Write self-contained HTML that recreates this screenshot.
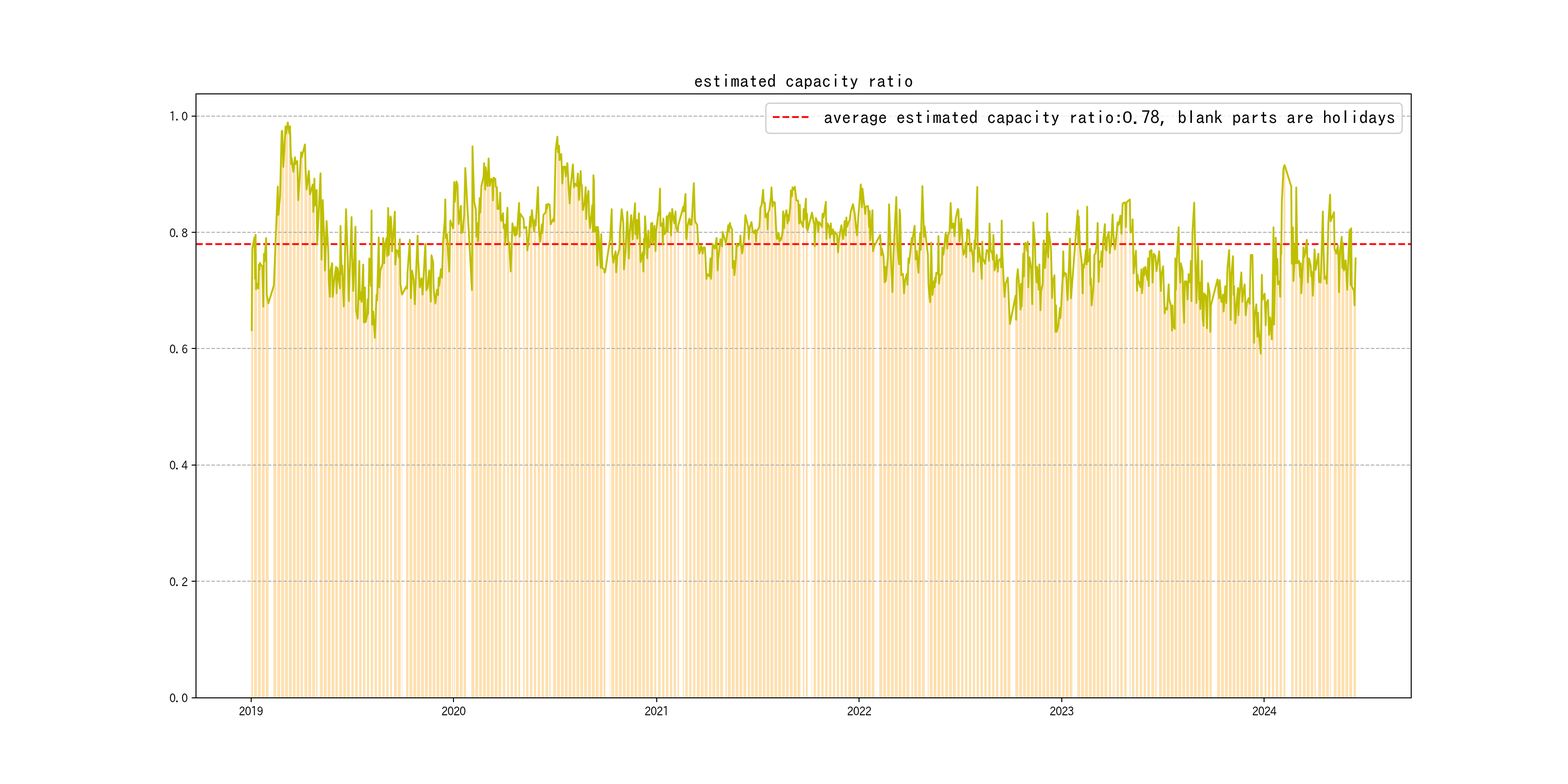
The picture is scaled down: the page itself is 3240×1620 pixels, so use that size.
<!DOCTYPE html>
<html><head><meta charset="utf-8"><title>estimated capacity ratio</title>
<style>html,body{margin:0;padding:0;background:#fff;width:3240px;height:1620px;overflow:hidden}svg{display:block}</style>
</head><body>
<svg width="3240" height="1620" viewBox="0 0 3240 1620">
<rect width="3240" height="1620" fill="#fff"/>
<path d="M519 1442V682H520V514H521V508H523V1442zM525 1442V490H526V576H527V485H528V598H529V586H531V1442zM533 1442V596H534V547H535V557H536V543H537V547H539V1442zM541 1442V550H542V592H543V634H544V524H546V540H547V1442zM549 1442V492H550V608H551V614H552V621H554V627H555V1442zM565 1442V589H566V560H567V530H568V500H570V471H571V1442zM573 1442V385H574V444H575V432H576V420H578V408H579V1442zM581 1442V272H582V270H583V308H584V345H586V324H587V1442zM589 1442V261H590V276H591V269H593V261H594V253H595V1442zM597 1442V276H598V261H599V300H601V339H602V327H603V1442zM605 1442V355H606V345H607V335H609V325H610V339H611V1442zM613 1442V333H614V373H615V414H617V394H618V374H619V1442zM621 1442V315H622V325H623V320H625V316H626V1442zM629 1442V299H630V345H631V368H633V391H634V382H635V1442zM637 1442V353H638V377H640V401H641V397H642V393H643V1442zM645 1442V381H646V438H648V404H649V369H650V425H651V1442zM653 1442V392H654V504H656V1442zM661 1442V358H662V447H664V536H665V475H666V413H667V1442zM669 1442V504H670V559H672V525H673V491H674V457H675V1442zM677 1442V519H678V581H680V597H681V613H682V559H683V1442zM685 1442V544H687V613H688V601H689V589H690V576H691V1442zM693 1442V551H695V606H696V580H697V554H698V1442zM701 1442V596H703V467H704V517H705V566H706V549H707V1442zM709 1442V633H711V583H712V533H713V482H714V432H715V1442zM717 1442V531H719V577H720V622H721V587H722V553H723V1442zM726 1442V449H727V529H728V565H729V601H730V568H731V1442zM734 1442V468H735V641H736V647H737V653H738V658H739V1442zM742 1442V539H743V619H744V611H745V604H746V624H747V1442zM750 1442V547H751V666H752V630H753V594H754V666H755V1442zM758 1442V653H759V619H760V649H761V591H762V534H763V1442zM766 1442V591H767V435H768V671H769V657H770V644H771V1442zM774 1442V698H775V668H776V639H777V609H778V621H779V1442zM782 1442V491H783V594H784V576H785V559H786V555H787V1442zM790 1442V544H791V492H792V518H793V544H794V509H795V1442zM798 1442V492H799V529H800V480H801V430H802V527H803V1442zM806 1442V447H807V450H808V484H809V519H810V1442zM814 1442V454H815V437H816V547H817V532H818V517H820V1442zM822 1442V519H823V532H824V513H825V494H826V586H828V1442zM830 1442V609H831V1442zM839 1442V591H840V596H841V561H842V545H844V1442zM846 1442V496H847V556H848V616H849V588H850V559H852V1442zM854 1442V579H855V604H856V629H857V600H859V572H860V1442zM862 1442V487H863V537H864V556H865V575H867V594H868V1442zM870 1442V575H871V592H872V609H873V588H875V567H876V1442zM878 1442V504H879V552H880V600H881V590H883V596H884V1442zM886 1442V559H887V580H888V602H889V623H891V528H892V1442zM894 1442V541H895V596H896V606H897V617H899V627H900V1442zM902 1442V598H903V604H904V610H906V574H907V591H908V1442zM910 1442V556H911V565H912V574H914V536H915V499H916V1442zM918 1442V454H919V412H920V492H922V488H923V484H924V1442zM926 1442V542H927V561H928V508H930V456H931V459H932V1442zM934 1442V469H935V472H936V1442zM938 1442V376H939V417H940V1442zM942 1442V375H943V379H944V382H946V423H947V463H948V1442zM950 1442V435H951V425H953V481H954V481H955V480H956V1442zM958 1442V444H959V396H961V347H962V368H963V1442zM974 1442V599H975V302H977V341H978V379H979V417H980V1442zM982 1442V433H983V489H985V475H986V461H987V499H988V1442zM990 1442V409H991V439H993V412H994V384H995V379H996V1442zM998 1442V365H1000V337H1001V365H1002V392H1003V346H1004V1442zM1006 1442V384H1008V362H1009V327H1010V356H1011V384H1012V1442zM1014 1442V370H1016V371H1017V372H1018V414H1019V367H1020V1442zM1022 1442V370H1024V386H1025V386H1026V387H1027V432H1028V1442zM1030 1442V432H1032V415H1033V398H1034V454H1035V457H1036V1442zM1039 1442V440H1040V471H1041V468H1042V464H1043V506H1044V1442zM1048 1442V429H1049V499H1050V500H1051V501H1052V1442zM1055 1442V561H1056V528H1057V495H1058V461H1059V468H1060V1442zM1063 1442V486H1064V469H1065V486H1066V474H1067V484H1068V1442zM1071 1442V435H1072V419H1073V489H1074V442H1075V1442zM1081 1442V452H1082V471H1083V471H1084V1442zM1087 1442V469H1088V493H1089V517H1090V508H1091V499H1092V1442zM1095 1442V448H1096V469H1097V452H1098V434H1099V445H1100V1442zM1103 1442V479H1104V459H1105V454H1106V466H1107V446H1108V1442zM1111 1442V387H1112V431H1113V476H1114V488H1115V500H1116V1442zM1119 1442V464H1120V481H1121V462H1122V444H1123V443H1124V1442zM1127 1442V439H1128V423H1129V431H1130V426H1131V421H1133V1442zM1135 1442V423H1136V443H1137V464H1138V1442zM1143 1442V451H1144V458H1145V408H1146V359H1147V310H1149V1442zM1151 1442V282H1152V315H1153V308H1154V301H1155V331H1157V1442zM1159 1442V318H1160V349H1161V379H1162V362H1163V344H1165V1442zM1167 1442V344H1168V364H1169V355H1170V346H1172V337H1173V1442zM1175 1442V400H1176V420H1177V402H1178V384H1180V373H1181V1442zM1183 1442V340H1184V363H1185V387H1186V383H1188V380H1189V1442zM1191 1442V384H1192V371H1193V358H1194V386H1196V413H1197V1442zM1199 1442V353H1200V382H1201V382H1202V408H1204V434H1205V1442zM1207 1442V419H1208V403H1209V387H1210V453H1212V417H1213V1442zM1215 1442V394H1216V442H1217V457H1219V471H1220V460H1221V1442zM1223 1442V424H1224V479H1225V362H1227V375H1228V479H1229V1442zM1231 1442V469H1232V509H1233V548H1235V469H1236V479H1237V1442zM1239 1442V535H1240V553H1241V484H1243V519H1244V553H1245V1442zM1247 1442V556H1248V563H1249V563H1251V1442zM1260 1442V494H1261V1442zM1263 1442V432H1264V524H1266V534H1267V543H1268V534H1269V1442zM1271 1442V519H1272V563H1274V546H1275V529H1276V525H1277V1442zM1279 1442V514H1280V475H1282V460H1283V446H1284V432H1285V1442zM1287 1442V462H1288V557H1290V543H1291V530H1292V517H1293V1442zM1295 1442V437H1296V470H1298V502H1299V534H1300V487H1301V1442zM1303 1442V445H1304V461H1306V478H1307V494H1308V462H1309V1442zM1311 1442V420H1313V484H1314V470H1315V455H1316V493H1317V1442zM1319 1442V441H1321V469H1322V497H1323V542H1324V537H1325V1442zM1327 1442V521H1329V561H1330V494H1331V526H1332V447H1333V1442zM1335 1442V504H1337V534H1338V505H1339V477H1340V511H1341V1442zM1343 1442V501H1345V462H1346V461H1347V460H1348V504H1349V1442zM1352 1442V467H1353V493H1354V519H1355V479H1356V1442zM1360 1442V439H1361V444H1362V417H1363V390H1364V467H1365V1442zM1368 1442V462H1369V505H1370V452H1371V468H1372V484H1373V1442zM1376 1442V479H1377V447H1378V463H1379V479H1380V447H1381V1442zM1384 1442V439H1385V463H1386V487H1387V459H1388V432H1389V1442zM1392 1442V457H1393V462H1394V449H1395V437H1396V469H1397V1442zM1400 1442V479H1401V466H1402V461H1403V1442zM1411 1442V427H1412V437H1413V1442zM1416 1442V401H1417V492H1418V494H1419V479H1420V464H1421V1442zM1424 1442V452H1425V464H1426V459H1427V454H1428V464H1429V1442zM1432 1442V400H1433V379H1434V416H1435V454H1436V459H1437V1442zM1440 1442V464H1441V484H1442V504H1443V514H1444V524H1446V1442zM1448 1442V507H1449V514H1450V519H1451V524H1452V511H1454V1442zM1456 1442V511H1457V533H1458V555H1459V576H1460V566H1462V1442zM1465 1442V571H1466V552H1467V534H1468V576H1470V1442zM1472 1442V504H1473V507H1474V509H1475V511H1476V514H1478V1442zM1480 1442V492H1481V525H1482V559H1483V536H1485V526H1486V1442zM1488 1442V494H1489V499H1490V504H1491V509H1493V479H1494V1442zM1499 1442V504H1501V494H1502V1442zM1504 1442V465H1505V479H1506V470H1507V460H1509V467H1510V1442zM1512 1442V474H1513V554H1514V546H1515V539H1517V569H1518V1442zM1520 1442V534H1521V504H1522V506H1523V509H1525V508H1526V1442zM1528 1442V504H1529V487H1530V504H1532V514H1533V524H1534V1442zM1536 1442V499H1537V484H1538V464H1540V444H1541V449H1542V1442zM1545 1442V469H1546V494H1548V482H1549V469H1550V1442zM1552 1442V459H1553V468H1554V477H1556V479H1557V481H1558V1442zM1560 1442V475H1561V499H1562V479H1564V477H1565V475H1566V1442zM1568 1442V469H1569V454H1570V429H1572V427H1573V424H1574V1442zM1576 1442V392H1577V419H1579V419H1580V419H1581V449H1582V1442zM1584 1442V442H1585V474H1587V439H1588V437H1589V434H1590V1442zM1592 1442V407H1593V387H1595V407H1596V427H1597V417H1598V1442zM1600 1442V418H1601V441H1603V464H1604V486H1605V494H1606V1442zM1608 1442V481H1609V499H1611V495H1612V491H1613V496H1614V1442zM1616 1442V481H1617V437H1619V454H1620V472H1621V449H1622V1442zM1624 1442V434H1626V448H1627V462H1628V444H1629V457H1630V1442zM1632 1442V424H1634V393H1635V400H1636V406H1637V387H1638V1442zM1640 1442V392H1642V386H1643V395H1644V404H1645V414H1646V1442zM1648 1442V414H1650V438H1651V462H1652V423H1653V454H1654V1442zM1659 1442V469H1660V432H1661V454H1662V1442zM1665 1442V411H1666V472H1667V442H1668V477H1669V1442zM1677 1442V439H1678V1442zM1681 1442V459H1682V464H1683V509H1684V480H1685V450H1686V1442zM1689 1442V459H1690V479H1691V469H1692V459H1693V461H1694V1442zM1697 1442V467H1698V469H1699V442H1700V442H1701V449H1702V1442zM1705 1442V425H1706V417H1707V494H1708V478H1709V462H1710V1442zM1713 1442V469H1714V491H1715V477H1716V462H1717V484H1718V1442zM1721 1442V474H1722V488H1723V501H1724V479H1725V480H1726V1442zM1729 1442V484H1730V503H1731V521H1732V506H1733V491H1734V1442zM1737 1442V472H1738V465H1739V475H1740V484H1741V494H1742V1442zM1745 1442V457H1746V472H1747V487H1748V449H1749V469H1750V1442zM1753 1442V459H1754V457H1755V454H1756V446H1757V437H1759V1442zM1761 1442V426H1762V422H1763V429H1764V435H1765V442H1767V1442zM1769 1442V475H1770V487H1771V471H1772V456H1773V441H1775V1442zM1778 1442V381H1779V405H1780V428H1781V390H1783V1442zM1785 1442V422H1786V432H1787V442H1788V427H1789V427H1791V1442zM1793 1442V426H1794V448H1795V469H1796V436H1798V497H1799V1442zM1801 1442V450H1802V434H1803V519H1804V514H1806V509H1807V1442zM1817 1442V488H1818V485H1819V507H1820V528H1822V514H1823V1442zM1825 1442V529H1826V556H1827V584H1828V551H1830V581H1831V1442zM1833 1442V542H1834V529H1835V475H1836V422H1838V455H1839V1442zM1841 1442V554H1842V579H1843V603H1845V564H1846V524H1847V1442zM1849 1442V454H1850V430H1851V407H1853V458H1854V509H1855V1442zM1857 1442V546H1858V433H1859V444H1861V506H1862V569H1863V1442zM1865 1442V566H1866V586H1867V606H1869V592H1870V579H1871V1442zM1873 1442V566H1874V588H1875V561H1877V534H1878V544H1879V1442zM1883 1442V492H1885V504H1886V489H1887V1442zM1889 1442V467H1890V501H1892V536H1893V528H1894V519H1895V1442zM1897 1442V564H1898V536H1900V509H1901V482H1902V516H1903V1442zM1905 1442V385H1906V420H1908V454H1909V489H1910V468H1911V1442zM1917 1442V526H1918V588H1919V1442zM1921 1442V624H1922V563H1924V501H1925V556H1926V610H1927V1442zM1929 1442V581H1930V593H1932V574H1933V583H1934V564H1935V1442zM1937 1442V566H1939V488H1940V586H1941V577H1942V569H1943V1442zM1945 1442V566H1947V511H1948V519H1949V526H1950V1442zM1953 1442V482H1955V489H1956V501H1957V514H1958V487H1959V1442zM1961 1442V479H1963V449H1964V420H1965V446H1966V472H1967V1442zM1969 1442V462H1971V475H1972V488H1973V470H1974V452H1975V1442zM1978 1442V437H1979V432H1980V434H1981V467H1982V499H1983V1442zM1986 1442V452H1987V473H1988V493H1989V514H1990V526H1991V1442zM1994 1442V516H1995V501H1996V531H1997V503H1998V474H1999V1442zM2002 1442V477H2003V498H2004V519H2005V504H2006V510H2007V1442zM2010 1442V529H2011V561H2012V529H2013V497H2014V514H2015V1442zM2018 1442V418H2019V386H2020V541H2021V527H2022V512H2023V1442zM2026 1442V539H2027V558H2028V576H2029V499H2030V534H2031V1442zM2034 1442V542H2035V545H2036V536H2037V526H2038V517H2039V1442zM2042 1442V519H2043V539H2044V462H2045V489H2046V517H2047V1442zM2050 1442V524H2051V536H2052V486H2053V522H2054V559H2055V1442zM2058 1442V544H2059V527H2060V544H2061V561H2062V539H2063V1442zM2067 1442V534H2068V553H2069V456H2070V519H2072V1442zM2074 1442V590H2075V614H2076V600H2077V586H2078V583H2080V1442zM2082 1442V574H2083V600H2084V626H2085V648H2086V669H2088V1442zM2098 1442V611H2099V661H2100V579H2101V568H2102V556H2104V1442zM2106 1442V599H2107V619H2108V640H2109V586H2111V633H2112V1442zM2114 1442V524H2115V571H2116V509H2117V505H2119V502H2120V1442zM2122 1442V519H2123V499H2124V594H2125V563H2127V532H2128V1442zM2130 1442V554H2131V591H2132V628H2133V544H2135V460H2136V1442zM2138 1442V504H2139V554H2140V569H2141V584H2143V551H2144V1442zM2146 1442V599H2147V546H2148V594H2149V641H2151V601H2152V1442zM2154 1442V586H2155V509H2156V497H2158V525H2159V554H2160V1442zM2162 1442V499H2163V441H2164V519H2166V532H2167V480H2168V1442zM2170 1442V504H2171V519H2172V568H2174V616H2175V584H2176V1442zM2178 1442V569H2179V627H2180V686H2182V631H2183V686H2184V1442zM2186 1442V673H2187V661H2188V648H2190V636H2191V657H2192V1442zM2195 1442V571H2196V519H2198V571H2199V564H2200V1442zM2202 1442V565H2203V584H2205V604H2206V620H2207V586H2208V1442zM2210 1442V493H2211V555H2213V616H2214V601H2215V586H2216V1442zM2226 1442V435H2227V504H2229V447H2230V478H2231V509H2232V1442zM2234 1442V539H2235V569H2237V606H2238V546H2239V554H2240V1442zM2242 1442V529H2243V517H2245V546H2246V427H2247V541H2248V1442zM2250 1442V534H2252V514H2253V589H2254V576H2255V631H2256V1442zM2258 1442V599H2260V579H2261V527H2262V525H2263V524H2264V1442zM2266 1442V497H2268V461H2269V522H2270V582H2271V544H2272V1442zM2274 1442V537H2276V519H2277V551H2278V524H2279V497H2280V1442zM2282 1442V463H2284V514H2285V516H2286V518H2287V492H2288V1442zM2291 1442V479H2292V501H2293V523H2294V507H2295V509H2296V1442zM2299 1442V443H2300V479H2301V1442zM2302 1442V503H2303V515H2304V1442zM2307 1442V484H2308V472H2309V459H2310V462H2311V464H2312V1442zM2315 1442V446H2316V464H2317V483H2318V452H2319V421H2320V1442zM2323 1442V418H2324V419H2325V420H2326V469H2327V418H2328V1442zM2334 1442V412H2335V480H2336V1442zM2339 1442V479H2340V453H2341V507H2342V565H2343V551H2344V1442zM2347 1442V518H2348V559H2349V601H2350V567H2351V579H2352V1442zM2355 1442V590H2356V594H2357V575H2358V556H2359V606H2360V1442zM2363 1442V554H2364V569H2365V560H2366V551H2367V559H2368V1442zM2371 1442V579H2372V534H2373V591H2374V555H2375V519H2376V1442zM2379 1442V517H2380V550H2381V584H2382V554H2383V524H2385V1442zM2387 1442V529H2388V545H2389V560H2390V1442zM2395 1442V519H2396V547H2397V574H2398V601H2399V569H2401V1442zM2403 1442V550H2404V584H2405V619H2406V647H2407V636H2409V1442zM2411 1442V640H2412V624H2413V606H2414V588H2415V619H2417V1442zM2419 1442V631H2420V657H2421V683H2422V631H2424V673H2425V1442zM2427 1442V680H2428V534H2429V599H2430V564H2432V529H2433V1442zM2435 1442V470H2436V544H2437V564H2438V584H2440V544H2441V1442zM2443 1442V559H2444V624H2445V645H2446V667H2448V581H2449V1442zM2451 1442V581H2452V600H2453V619H2454V593H2456V566H2457V1442zM2459 1442V584H2460V539H2461V622H2462V551H2464V480H2465V1442zM2467 1442V419H2468V471H2469V524H2471V575H2472V626H2473V1442zM2475 1442V508H2476V563H2477V619H2479V584H2480V639H2481V1442zM2483 1442V539H2484V656H2485V665H2487V673H2488V606H2489V1442zM2491 1442V611H2492V645H2493V678H2495V632H2496V585H2497V1442zM2499 1442V606H2500V686H2501V632H2503V628H2504V1442zM2515 1442V578H2516V590H2518V603H2519V616H2520V579H2521V1442zM2523 1442V624H2524V624H2526V624H2527V609H2528V644H2529V1442zM2531 1442V591H2532V609H2534V626H2535V590H2536V554H2537V1442zM2539 1442V517H2540V565H2542V613H2543V661H2544V569H2545V1442zM2547 1442V529H2548V609H2550V591H2551V630H2552V669H2553V1442zM2555 1442V619H2556V607H2558V595H2559V651H2560V619H2561V1442zM2563 1442V577H2565V563H2566V593H2567V624H2568V609H2569V1442zM2571 1442V588H2573V619H2574V651H2575V639H2576V626H2577V1442zM2579 1442V616H2581V622H2582V628H2583V577H2584V527H2585V1442zM2587 1442V527H2589V587H2590V648H2591V708H2592V654H2593V1442zM2595 1442V629H2597V662H2598V696H2599V646H2600V679H2601V1442zM2604 1442V718H2605V731H2606V649H2607V568H2608V620H2609V1442zM2613 1442V607H2614V640H2615V672H2616V626H2617V1442zM2620 1442V620H2621V656H2622V692H2623V674H2624V656H2625V1442zM2628 1442V701H2629V653H2630V561H2631V470H2632V671H2633V1442zM2636 1442V491H2637V529H2638V568H2639V535H2640V587H2641V1442zM2644 1442V581H2645V613H2646V506H2647V525H2648V418H2649V1442zM2652 1442V348H2653V344H2654V341H2655V345H2656V1442zM2668 1442V385H2669V545H2670V507H2671V470H2672V581H2673V1442zM2676 1442V504H2677V544H2678V387H2679V466H2680V544H2681V1442zM2684 1442V539H2685V556H2686V573H2687V544H2688V606H2689V1442zM2692 1442V544H2693V512H2694V532H2695V528H2696V524H2698V1442zM2700 1442V496H2701V540H2702V584H2703V559H2704V534H2706V1442zM2708 1442V549H2709V571H2710V561H2711V586H2712V611H2714V1442zM2716 1442V515H2717V537H2718V558H2719V1442zM2724 1442V524H2725V582H2726V583H2727V583H2728V584H2730V1442zM2732 1442V474H2733V437H2734V509H2735V543H2737V576H2738V1442zM2740 1442V571H2741V586H2742V544H2743V502H2745V460H2746V1442zM2748 1442V402H2749V457H2750V1442zM2756 1442V438H2757V514H2758V517H2759V519H2761V524H2762V1442zM2764 1442V508H2765V534H2766V604H2767V561H2769V519H2770V1442zM2772 1442V489H2773V554H2774V502H2775V530H2777V559H2778V1442zM2780 1442V538H2781V558H2782V578H2784V599H2785V559H2786V1442zM2788 1442V477H2789V474H2790V589H2792V472H2793V591H2794V1442zM2797 1442V601H2798V631H2800V582H2801V534H2802V1442z" fill="#fee0b0" shape-rendering="crispEdges"/>
<g stroke="#b0b0b0" stroke-width="2" stroke-dasharray="7.4 3.2"><line x1="405" x2="2916" y1="1442" y2="1442" /><line x1="405" x2="2916" y1="1201" y2="1201" /><line x1="405" x2="2916" y1="961" y2="961" /><line x1="405" x2="2916" y1="720" y2="720" /><line x1="405" x2="2916" y1="480" y2="480" /><line x1="405" x2="2916" y1="240" y2="240" /></g>
<line x1="405" x2="2916" y1="504.40" y2="504.40" stroke="#ff0000" stroke-width="3.75" stroke-dasharray="13.875 6"/>
<polyline points="520.15,682.39 521.29,514.16 522.44,508.18 525.88,490.25 527.02,575.64 528.17,485.12 529.32,597.85 530.46,585.89 533.90,596.14 535.05,546.61 536.19,556.86 537.34,543.19 538.49,546.61 541.92,550.03 543.07,591.87 544.22,633.71 545.36,524.41 546.51,539.78 549.95,491.96 551.09,608.10 552.24,614.36 553.39,620.62 554.53,626.88 566.00,589.31 567.14,559.54 568.29,529.76 569.43,499.99 570.58,471.33 574.02,385.34 575.16,443.88 576.31,431.76 577.46,419.65 578.60,407.54 582.04,272.30 583.19,270.28 584.33,307.62 585.48,344.97 586.63,324.02 590.07,261.19 591.21,276.33 592.36,268.60 593.50,260.86 594.65,253.12 598.09,276.33 599.24,261.19 600.38,300.05 601.53,338.91 602.67,326.80 606.11,355.06 607.26,344.97 608.41,334.87 609.55,324.78 610.70,338.91 614.14,332.85 615.28,373.23 616.43,413.60 617.58,393.82 618.72,374.03 622.16,314.69 623.31,324.78 624.45,320.41 625.60,316.03 630.18,298.54 631.33,344.97 632.48,368.18 633.62,391.39 634.77,381.80 638.21,353.04 639.35,377.26 640.50,401.49 641.65,397.45 642.79,393.41 646.23,381.30 647.38,437.82 648.52,403.50 649.67,369.19 650.82,424.60 654.25,392.30 655.40,504.10 662.28,358.01 663.42,447.20 664.57,536.40 665.72,474.91 666.86,413.42 670.30,504.10 671.45,558.76 672.59,524.80 673.74,490.85 674.89,456.89 678.32,519.01 679.47,581.12 680.62,597.27 681.76,613.42 682.91,558.76 686.35,543.85 687.49,613.42 688.64,600.99 689.79,588.57 690.93,576.15 694.37,551.30 695.52,605.96 696.66,579.88 697.81,553.79 702.40,596.02 703.54,466.83 704.69,516.52 705.83,566.21 706.98,548.82 710.42,633.29 711.57,582.98 712.71,532.67 713.86,482.36 715.00,432.05 718.44,531.43 719.59,576.77 720.73,622.11 721.88,587.39 723.03,552.67 726.47,448.51 727.61,529.25 728.76,565.28 729.90,601.30 731.05,568.07 734.49,468.39 735.64,641.06 736.78,646.85 737.93,652.65 739.07,658.45 742.51,539.19 743.66,618.70 744.81,611.24 745.95,603.79 747.10,623.66 750.54,546.65 751.68,665.90 752.83,629.88 753.98,593.85 755.12,665.90 758.56,653.48 759.71,618.70 760.85,648.51 762.00,591.37 763.15,534.22 766.58,591.37 767.73,434.84 768.88,670.87 770.02,657.20 771.17,643.54 774.61,698.20 775.75,668.39 776.90,638.57 778.05,608.76 779.19,621.18 782.63,490.75 783.78,593.85 784.92,576.46 786.07,559.07 787.22,555.34 790.65,544.16 791.80,491.99 792.95,518.07 794.09,544.16 795.24,509.38 798.68,491.99 799.82,529.25 800.97,479.53 802.12,429.81 803.26,526.71 806.70,447.20 807.85,449.69 808.99,484.47 810.14,519.25 814.73,453.66 815.87,437.27 817.02,546.58 818.16,531.68 819.31,516.77 822.75,519.25 823.89,531.68 825.04,513.04 826.19,494.41 827.33,586.34 830.77,608.70 839.94,591.30 841.09,596.27 842.23,561.49 843.38,545.03 846.82,495.65 847.97,555.90 849.11,616.15 850.26,587.58 851.40,559.01 854.84,578.88 855.99,603.73 857.14,628.57 858.28,600.25 859.43,571.93 862.87,486.96 864.01,536.65 865.16,555.69 866.31,574.74 867.45,593.79 870.89,575.16 872.04,591.93 873.18,608.70 874.33,587.76 875.47,566.83 878.91,504.04 880.06,551.86 881.21,599.69 882.35,589.75 883.50,595.96 886.94,558.70 888.08,580.23 889.23,601.76 890.38,623.29 891.52,527.64 894.96,541.30 896.11,595.96 897.25,606.31 898.40,616.67 899.55,627.02 902.98,598.45 904.13,604.04 905.28,609.63 906.42,573.60 907.57,590.99 911.01,556.21 912.15,564.91 913.30,573.60 914.45,536.34 915.59,499.07 919.03,454.35 920.18,412.11 921.32,491.61 922.47,487.89 923.62,484.16 927.05,541.93 928.20,561.18 929.35,508.39 930.49,455.59 931.64,459.32 935.08,468.63 936.22,471.74 938.52,376.09 939.66,417.08 943.10,374.84 944.25,378.57 945.39,382.30 946.54,422.67 947.69,463.04 951.13,434.81 952.27,425.40 953.42,481.30 954.56,480.68 955.71,480.06 959.15,444.04 960.30,395.59 961.44,347.14 962.59,368.16 975.20,599.32 976.34,302.42 977.49,340.52 978.63,378.61 979.78,416.71 983.22,432.86 984.37,488.76 985.51,475.09 986.66,461.43 987.80,498.70 991.24,409.25 992.39,439.07 993.54,411.74 994.68,384.41 995.83,379.44 999.27,364.53 1000.41,337.20 1001.56,364.53 1002.71,391.86 1003.85,345.90 1007.29,384.41 1008.44,362.05 1009.58,327.27 1010.73,355.84 1011.88,384.41 1015.31,369.50 1016.46,370.75 1017.61,371.99 1018.75,414.22 1019.90,367.02 1023.34,369.50 1024.48,385.71 1025.63,386.34 1026.78,386.96 1027.92,431.68 1031.36,431.68 1032.51,414.91 1033.65,398.14 1034.80,454.04 1035.95,456.52 1039.38,440.37 1040.53,471.43 1041.68,467.70 1042.82,463.98 1043.97,506.21 1048.55,429.19 1049.70,498.76 1050.85,500.00 1051.99,501.24 1055.43,560.87 1056.58,527.74 1057.72,494.62 1058.87,461.49 1060.02,467.70 1063.46,486.34 1064.60,468.94 1065.75,486.34 1066.89,473.91 1068.04,483.85 1071.48,435.40 1072.62,419.25 1073.77,488.82 1074.92,441.61 1081.79,451.55 1082.94,471.43 1084.09,470.81 1087.53,468.94 1088.67,493.17 1089.82,517.39 1090.96,508.07 1092.11,498.76 1095.55,447.83 1096.70,468.94 1097.84,451.55 1098.99,434.16 1100.13,445.28 1103.57,478.63 1104.72,458.76 1105.87,453.79 1107.01,466.21 1108.16,446.34 1111.60,386.71 1112.74,431.43 1113.89,476.15 1115.04,487.95 1116.18,499.75 1119.62,463.73 1120.77,481.12 1121.91,462.48 1123.06,443.85 1124.20,442.61 1127.64,438.88 1128.79,422.73 1129.94,431.43 1131.08,426.46 1132.23,421.49 1135.67,422.73 1136.81,443.23 1137.96,463.73 1143.69,451.30 1144.84,457.52 1145.98,408.45 1147.13,359.38 1148.28,309.69 1151.71,282.36 1152.86,314.66 1154.01,307.83 1155.15,300.99 1156.30,330.81 1159.74,318.39 1160.88,348.82 1162.03,379.25 1163.18,361.86 1164.32,344.47 1167.76,344.47 1168.91,364.35 1170.05,355.24 1171.20,346.13 1172.35,337.02 1175.78,399.63 1176.93,420.50 1178.08,402.48 1179.22,384.47 1180.37,373.29 1183.81,339.75 1184.95,363.35 1186.10,386.96 1187.25,383.23 1188.39,379.50 1191.83,384.47 1192.98,371.43 1194.12,358.39 1195.27,385.71 1196.42,413.04 1199.86,353.42 1201.00,381.99 1202.15,381.99 1203.29,408.07 1204.44,434.16 1207.88,419.25 1209.03,403.11 1210.17,386.96 1211.32,452.80 1212.46,416.77 1215.90,394.41 1217.05,441.61 1218.19,456.52 1219.34,471.43 1220.49,459.63 1223.93,424.22 1225.07,478.88 1226.22,362.11 1227.36,374.53 1228.51,478.88 1231.95,468.94 1233.10,508.70 1234.24,548.45 1235.39,468.94 1236.53,478.88 1239.97,534.78 1241.12,553.42 1242.27,483.85 1243.41,518.63 1244.56,553.42 1248.00,555.90 1249.14,563.35 1250.29,562.73 1260.61,494.41 1264.04,432.30 1265.19,524.22 1266.34,533.54 1267.48,542.86 1268.63,534.16 1272.07,519.25 1273.21,562.73 1274.36,545.96 1275.51,529.19 1276.65,525.47 1280.09,514.29 1281.24,474.53 1282.38,460.46 1283.53,446.38 1284.68,432.30 1288.11,462.11 1289.26,556.52 1290.41,543.27 1291.55,530.02 1292.70,516.77 1296.14,437.27 1297.28,469.57 1298.43,501.86 1299.58,534.16 1300.72,486.96 1304.16,444.72 1305.31,461.28 1306.45,477.85 1307.60,494.41 1308.75,462.11 1312.19,419.88 1313.33,484.47 1314.48,469.57 1315.62,454.66 1316.77,493.17 1320.21,440.99 1321.35,468.94 1322.50,496.89 1323.65,541.61 1324.79,536.54 1328.23,521.30 1329.38,561.06 1330.52,493.98 1331.67,526.27 1332.82,446.77 1336.26,503.91 1337.40,533.73 1338.55,505.16 1339.69,476.58 1340.84,511.37 1344.28,501.43 1345.43,461.68 1346.57,461.06 1347.72,460.43 1348.86,503.91 1352.30,466.65 1353.45,492.73 1354.60,518.82 1355.74,479.07 1360.33,439.32 1361.47,444.29 1362.62,416.96 1363.77,389.63 1364.91,466.65 1368.35,461.68 1369.50,505.16 1370.64,451.74 1371.79,467.89 1372.93,484.04 1376.37,479.07 1377.52,446.77 1378.67,462.92 1379.81,479.07 1380.96,446.77 1384.40,439.32 1385.54,462.92 1386.69,486.52 1387.84,459.19 1388.98,431.86 1392.42,456.71 1393.57,461.68 1394.71,449.25 1395.86,436.83 1397.01,469.13 1400.44,479.19 1401.59,465.53 1402.74,461.25 1411.91,427.02 1413.05,436.96 1416.49,400.93 1417.64,491.61 1418.78,494.10 1419.93,479.19 1421.08,464.29 1424.51,451.86 1425.66,464.29 1426.81,459.32 1427.95,454.35 1429.10,464.29 1432.54,400.00 1433.68,378.57 1434.83,416.46 1435.98,454.35 1437.12,459.32 1440.56,464.29 1441.71,484.16 1442.85,504.04 1444.00,513.98 1445.15,523.91 1448.59,506.52 1449.73,513.98 1450.88,518.94 1452.02,523.91 1453.17,511.49 1456.61,511.49 1457.76,533.02 1458.90,554.55 1460.05,576.09 1461.19,566.15 1465.78,571.12 1466.92,552.48 1468.07,533.85 1469.22,576.09 1472.66,504.04 1473.80,506.51 1474.95,508.98 1476.09,511.44 1477.24,513.91 1480.68,491.55 1481.83,525.09 1482.97,558.63 1484.12,536.27 1485.26,525.71 1488.70,494.04 1489.85,499.01 1491.00,503.98 1492.14,508.94 1493.29,479.13 1500.17,503.98 1501.31,494.35 1504.75,465.47 1505.90,479.13 1507.04,469.81 1508.19,460.50 1509.34,466.71 1512.77,474.16 1513.92,553.66 1515.07,546.21 1516.21,538.76 1517.36,568.57 1520.80,533.79 1521.94,503.98 1523.09,506.46 1524.24,508.94 1525.38,507.70 1528.82,503.98 1529.97,486.58 1531.11,503.98 1532.26,513.91 1533.41,523.85 1536.84,499.01 1537.99,484.10 1539.14,464.22 1540.28,444.35 1541.43,449.32 1546.01,469.19 1547.16,494.04 1548.31,481.55 1549.45,469.07 1552.89,459.13 1554.04,467.83 1555.18,476.52 1556.33,479.01 1557.48,481.49 1560.92,475.28 1562.06,498.88 1563.21,479.01 1564.35,477.02 1565.50,475.03 1568.94,469.07 1570.08,454.16 1571.23,429.32 1572.38,426.83 1573.52,424.35 1576.96,392.05 1578.11,419.38 1579.25,419.38 1580.40,419.38 1581.55,449.19 1584.99,441.74 1586.13,474.04 1587.28,439.25 1588.42,436.77 1589.57,434.29 1593.01,406.96 1594.16,387.08 1595.30,406.96 1596.45,426.83 1597.59,416.89 1601.03,418.14 1602.18,440.91 1603.33,463.69 1604.47,486.46 1605.62,493.91 1609.06,481.49 1610.20,498.88 1611.35,495.16 1612.50,491.43 1613.64,496.40 1617.08,481.49 1618.23,436.77 1619.37,454.16 1620.52,471.55 1621.66,449.19 1625.10,434.29 1626.25,447.95 1627.40,461.61 1628.54,444.22 1629.69,456.65 1633.13,424.35 1634.27,393.29 1635.42,399.50 1636.57,405.71 1637.71,387.08 1641.15,392.05 1642.30,385.84 1643.44,395.16 1644.59,404.47 1645.74,414.41 1649.17,414.41 1650.32,438.01 1651.47,461.61 1652.61,423.11 1653.76,454.16 1659.49,469.07 1660.64,431.80 1661.78,454.16 1665.22,410.68 1666.37,471.55 1667.51,441.74 1668.66,476.52 1677.83,439.25 1681.27,459.13 1682.41,464.10 1683.56,508.82 1684.71,479.63 1685.85,450.43 1689.29,459.13 1690.44,479.01 1691.58,469.07 1692.73,459.13 1693.88,460.99 1697.32,466.58 1698.46,469.07 1699.61,441.74 1700.75,441.80 1701.90,449.25 1705.34,425.03 1706.49,416.96 1707.63,493.98 1708.78,477.83 1709.92,461.68 1713.36,469.13 1714.51,491.49 1715.65,476.58 1716.80,461.68 1717.95,484.04 1721.39,474.10 1722.53,487.76 1723.68,501.43 1724.82,479.07 1725.97,480.31 1729.41,484.04 1730.56,502.67 1731.70,521.30 1732.85,506.40 1733.99,491.49 1737.43,471.93 1738.58,465.40 1739.73,474.93 1740.87,484.45 1742.02,493.98 1745.46,456.71 1746.60,471.61 1747.75,486.52 1748.90,449.25 1750.04,469.13 1753.48,459.19 1754.63,456.71 1755.77,454.22 1756.92,445.53 1758.07,436.83 1761.50,425.65 1762.65,421.93 1763.80,428.55 1764.94,435.18 1766.09,441.80 1769.53,475.34 1770.67,486.52 1771.82,471.46 1772.97,456.39 1774.11,441.32 1778.70,381.06 1779.84,404.66 1780.99,428.26 1782.14,389.75 1785.57,422.05 1786.72,431.99 1787.87,441.93 1789.01,427.02 1790.16,426.71 1793.60,425.78 1794.74,447.52 1795.89,469.25 1797.04,435.71 1798.18,496.58 1801.62,450.00 1802.77,434.47 1803.91,518.94 1805.06,513.98 1806.21,509.01 1817.67,487.55 1818.81,485.40 1819.96,506.52 1821.11,527.64 1822.25,513.98 1825.69,528.88 1826.84,556.21 1827.98,583.54 1829.13,551.24 1830.28,581.06 1833.72,541.93 1834.86,528.88 1836.01,475.47 1837.15,422.05 1838.30,454.97 1841.74,553.73 1842.89,578.57 1844.03,603.42 1845.18,563.66 1846.32,523.91 1849.76,453.81 1850.91,430.45 1852.06,407.08 1853.20,458.01 1854.35,508.94 1857.79,546.21 1858.93,433.17 1860.08,444.35 1861.23,506.46 1862.37,568.57 1865.81,566.09 1866.96,585.96 1868.10,605.84 1869.25,592.17 1870.39,578.51 1873.83,566.09 1874.98,588.45 1876.13,561.12 1877.27,533.79 1878.42,543.73 1884.15,491.55 1885.30,503.98 1886.44,489.07 1889.88,466.71 1891.03,501.49 1892.17,536.27 1893.32,527.58 1894.47,518.88 1897.90,563.60 1899.05,536.27 1900.20,508.94 1901.34,481.61 1902.49,516.40 1905.93,384.72 1907.07,419.50 1908.22,454.29 1909.37,489.07 1910.51,467.95 1917.39,526.34 1918.54,588.45 1921.97,624.47 1923.12,562.98 1924.27,501.49 1925.41,555.53 1926.56,609.57 1930.00,580.99 1931.14,593.42 1932.29,573.54 1933.44,583.48 1934.58,563.60 1938.02,566.09 1939.17,487.83 1940.31,585.96 1941.46,577.27 1942.61,568.57 1946.05,566.09 1947.19,511.43 1948.34,518.88 1949.48,526.34 1954.07,481.61 1955.22,489.07 1956.36,501.49 1957.51,513.91 1958.65,486.58 1962.09,479.13 1963.24,449.32 1964.38,419.50 1965.53,445.59 1966.68,471.68 1970.12,461.74 1971.26,474.78 1972.41,487.83 1973.55,469.81 1974.70,451.80 1978.14,436.89 1979.29,431.93 1980.43,434.41 1981.58,466.71 1982.72,499.01 1986.16,451.80 1987.31,472.51 1988.46,493.21 1989.60,513.91 1990.75,526.34 1994.19,516.40 1995.33,501.49 1996.48,531.30 1997.63,502.73 1998.77,474.16 2002.21,476.83 2003.36,497.95 2004.50,519.07 2005.65,504.16 2006.80,510.37 2010.23,529.01 2011.38,561.30 2012.53,529.01 2013.67,496.71 2014.82,514.10 2018.26,418.14 2019.40,386.15 2020.55,541.43 2021.70,526.52 2022.84,511.61 2026.28,538.94 2027.43,557.58 2028.57,576.21 2029.72,499.19 2030.87,533.98 2034.30,542.36 2035.45,545.16 2036.60,535.63 2037.74,526.11 2038.89,516.58 2042.33,519.07 2043.47,538.94 2044.62,461.93 2045.77,489.25 2046.91,516.58 2050.35,524.04 2051.50,536.46 2052.64,485.53 2053.79,522.17 2054.94,558.82 2058.38,543.91 2059.52,526.52 2060.67,543.91 2061.81,561.30 2062.96,538.94 2067.54,533.98 2068.69,552.61 2069.84,455.71 2070.98,519.07 2074.42,589.92 2075.57,613.54 2076.71,599.88 2077.86,586.21 2079.01,583.11 2082.45,573.79 2083.59,599.88 2084.74,625.96 2085.88,647.70 2087.03,669.44 2098.49,611.06 2099.64,660.75 2100.79,578.76 2101.93,567.58 2103.08,556.40 2106.52,598.63 2107.66,619.13 2108.81,639.63 2109.96,586.21 2111.10,633.42 2114.54,524.10 2115.69,571.30 2116.83,509.19 2117.98,505.47 2119.12,501.74 2122.56,519.13 2123.71,499.25 2124.86,593.66 2126.00,562.61 2127.15,531.55 2130.59,553.91 2131.73,591.18 2132.88,628.45 2134.03,543.98 2135.17,459.50 2138.61,504.22 2139.76,553.91 2140.90,568.82 2142.05,583.73 2143.20,551.43 2146.63,598.63 2147.78,546.46 2148.93,593.66 2150.07,640.87 2151.22,601.24 2154.66,586.34 2155.80,509.32 2156.95,496.89 2158.10,525.47 2159.24,554.04 2162.68,499.38 2163.83,440.99 2164.97,519.25 2166.12,531.68 2167.27,479.50 2170.70,504.35 2171.85,519.25 2173.00,567.70 2174.14,616.15 2175.29,583.85 2178.73,568.94 2179.87,627.33 2181.02,685.71 2182.17,631.06 2183.31,685.71 2186.75,673.29 2187.90,660.87 2189.04,648.45 2190.19,636.02 2191.34,657.14 2195.92,571.43 2197.07,519.25 2198.21,571.43 2199.36,563.98 2202.80,565.22 2203.95,584.47 2205.09,603.73 2206.24,619.88 2207.38,586.34 2210.82,493.17 2211.97,554.66 2213.12,616.15 2214.26,601.02 2215.41,585.90 2226.87,434.66 2228.02,504.22 2229.16,447.08 2230.31,478.14 2231.45,509.19 2234.89,539.01 2236.04,568.82 2237.19,606.09 2238.33,546.46 2239.48,553.91 2242.92,529.07 2244.06,516.65 2245.21,546.46 2246.36,427.20 2247.50,541.49 2250.94,534.04 2252.09,514.16 2253.23,588.70 2254.38,576.27 2255.53,630.93 2258.96,598.63 2260.11,578.76 2261.26,526.58 2262.40,525.34 2263.55,524.10 2266.99,496.77 2268.13,460.75 2269.28,521.61 2270.43,582.48 2271.57,543.98 2275.01,536.52 2276.16,519.13 2277.30,551.43 2278.45,524.10 2279.60,496.77 2283.03,463.23 2284.18,514.16 2285.33,516.02 2286.47,517.89 2287.62,491.80 2291.06,479.38 2292.20,501.12 2293.35,522.86 2294.50,506.71 2295.64,509.19 2299.08,443.35 2300.23,479.25 2302.52,503.27 2303.67,515.28 2307.11,484.22 2308.25,471.80 2309.40,459.38 2310.54,461.86 2311.69,464.35 2315.13,445.71 2316.27,464.35 2317.42,482.98 2318.57,451.93 2319.71,420.87 2323.15,418.39 2324.30,419.01 2325.44,419.63 2326.59,469.32 2327.74,418.00 2334.61,412.17 2335.76,480.50 2339.20,479.25 2340.35,453.17 2341.49,506.58 2342.64,564.97 2343.78,551.30 2347.22,517.76 2348.37,559.38 2349.52,600.99 2350.66,567.45 2351.81,578.63 2355.25,589.81 2356.39,593.54 2357.54,574.91 2358.69,556.27 2359.83,605.96 2363.27,553.79 2364.42,568.70 2365.56,560.00 2366.71,551.30 2367.85,558.76 2371.29,578.63 2372.44,533.91 2373.59,591.06 2374.73,555.16 2375.88,519.25 2379.32,516.77 2380.46,550.31 2381.61,583.85 2382.76,554.04 2383.90,524.22 2387.34,529.19 2388.49,544.72 2389.63,560.25 2395.36,519.25 2396.51,546.58 2397.66,573.91 2398.80,601.24 2399.95,568.94 2403.39,550.31 2404.53,584.47 2405.68,618.63 2406.83,647.20 2407.97,636.02 2411.41,639.75 2412.56,623.60 2413.70,605.59 2414.85,587.58 2416.00,618.63 2419.43,631.06 2420.58,657.14 2421.73,683.23 2422.87,631.06 2424.02,673.29 2427.46,679.50 2428.60,534.16 2429.75,598.76 2430.90,563.98 2432.04,529.19 2435.48,469.57 2436.63,544.10 2437.77,563.98 2438.92,583.85 2440.07,544.10 2443.51,559.01 2444.65,623.60 2445.80,645.34 2446.94,667.08 2448.09,581.37 2451.53,581.37 2452.68,600.00 2453.82,618.63 2454.97,592.55 2456.11,566.46 2459.55,583.85 2460.70,539.13 2461.85,622.36 2462.99,550.93 2464.14,479.50 2467.58,418.63 2468.72,471.43 2469.87,524.22 2471.01,575.16 2472.16,626.09 2475.60,508.07 2476.75,563.35 2477.89,618.63 2479.04,583.85 2480.18,638.51 2483.62,539.13 2484.77,655.90 2485.92,664.60 2487.06,673.29 2488.21,606.21 2491.65,611.18 2492.79,644.72 2493.94,678.26 2495.09,631.68 2496.23,585.09 2499.67,606.21 2500.82,685.71 2501.96,632.30 2503.11,627.74 2515.72,577.64 2516.86,590.48 2518.01,603.31 2519.16,616.15 2520.30,578.88 2523.74,623.60 2524.89,623.70 2526.03,623.79 2527.18,608.88 2528.33,643.66 2531.76,591.49 2532.91,608.88 2534.06,626.27 2535.20,590.25 2536.35,554.22 2539.79,516.96 2540.93,564.99 2542.08,613.02 2543.23,661.06 2544.37,569.13 2547.81,529.38 2548.96,608.88 2550.10,591.49 2551.25,630.00 2552.40,668.51 2555.84,618.82 2556.98,607.02 2558.13,595.22 2559.27,651.12 2560.42,618.82 2563.86,576.89 2565.00,562.92 2566.15,593.35 2567.30,623.79 2568.44,608.88 2571.88,587.76 2573.03,619.44 2574.17,651.12 2575.32,638.70 2576.47,626.27 2579.91,616.34 2581.05,621.93 2582.20,627.52 2583.34,577.20 2584.49,526.89 2587.93,526.89 2589.08,587.35 2590.22,647.81 2591.37,708.26 2592.51,653.60 2595.95,628.76 2597.10,662.30 2598.25,695.84 2599.39,646.05 2600.54,678.66 2603.98,717.78 2605.12,730.82 2606.27,649.31 2607.42,567.80 2608.56,619.97 2613.15,606.93 2614.29,639.53 2615.44,672.14 2616.58,626.49 2620.02,619.97 2621.17,655.83 2622.32,691.70 2623.46,673.77 2624.61,655.83 2628.05,701.48 2629.19,652.57 2630.34,561.28 2631.49,469.98 2632.63,670.51 2636.07,491.18 2637.22,529.49 2638.36,567.80 2639.51,535.19 2640.66,587.36 2644.09,580.84 2645.24,613.45 2646.39,505.85 2647.53,525.41 2648.68,417.82 2652.12,347.71 2653.26,344.45 2654.41,341.19 2655.56,344.86 2668.16,385.21 2669.31,544.98 2670.46,507.48 2671.60,469.98 2672.75,580.84 2676.19,504.22 2677.33,543.98 2678.48,387.45 2679.63,465.71 2680.77,543.98 2684.21,539.01 2685.36,555.78 2686.50,572.55 2687.65,543.98 2688.80,606.09 2692.24,543.98 2693.38,511.68 2694.53,531.55 2695.67,527.83 2696.82,524.10 2700.26,495.53 2701.41,539.63 2702.55,583.73 2703.70,558.88 2704.84,534.04 2708.28,548.94 2709.43,571.30 2710.58,561.37 2711.72,586.21 2712.87,611.06 2716.31,515.40 2717.45,536.52 2718.60,557.64 2724.33,524.10 2725.48,582.48 2726.62,582.90 2727.77,583.31 2728.91,583.73 2732.35,473.79 2733.50,437.14 2734.65,509.19 2735.79,542.73 2736.94,576.27 2740.38,571.30 2741.52,586.21 2742.67,543.98 2743.82,501.74 2744.96,459.50 2748.40,402.36 2749.55,457.02 2756.42,438.39 2757.57,514.16 2758.72,516.65 2759.86,519.13 2761.01,524.10 2764.45,507.95 2765.59,534.04 2766.74,603.60 2767.89,561.37 2769.03,519.13 2772.47,489.32 2773.62,553.91 2774.76,501.74 2775.91,530.31 2777.06,558.88 2780.49,537.76 2781.64,558.05 2782.79,578.34 2783.93,598.63 2785.08,558.88 2788.52,476.89 2789.66,474.41 2790.81,588.70 2791.96,471.93 2793.10,591.18 2797.69,601.12 2798.83,630.93 2799.98,582.48 2801.13,534.04" fill="none" stroke="#bfbf00" stroke-width="3.75" stroke-linejoin="round" stroke-linecap="square"/>
<rect x="405" y="194" width="2511" height="1248" fill="none" stroke="#000" stroke-width="2"/>
<g stroke="#000" stroke-width="2"><line x1="396" x2="405" y1="1442" y2="1442"/><line x1="396" x2="405" y1="1201" y2="1201"/><line x1="396" x2="405" y1="961" y2="961"/><line x1="396" x2="405" y1="720" y2="720"/><line x1="396" x2="405" y1="480" y2="480"/><line x1="396" x2="405" y1="240" y2="240"/><line x1="519" x2="519" y1="1442" y2="1450.75"/><line x1="937" x2="937" y1="1442" y2="1450.75"/><line x1="1357" x2="1357" y1="1442" y2="1450.75"/><line x1="1775" x2="1775" y1="1442" y2="1450.75"/><line x1="2194" x2="2194" y1="1442" y2="1450.75"/><line x1="2612" x2="2612" y1="1442" y2="1450.75"/></g>
<g fill="#000"><text x="346.74 360.99 376.15" y="1451.20" transform="matrix(0.85 0 0 1 55.313 0)" font-family="'IPAGothic', monospace" font-size="24.7px"><tspan font-family="'IPAPGothic', 'IPAGothic', sans-serif">0</tspan>.<tspan font-family="'IPAPGothic', 'IPAGothic', sans-serif">0</tspan></text><text x="346.74 360.99 376.15" y="1210.84" transform="matrix(0.85 0 0 1 55.313 0)" font-family="'IPAGothic', monospace" font-size="24.7px"><tspan font-family="'IPAPGothic', 'IPAGothic', sans-serif">0</tspan>.<tspan font-family="'IPAPGothic', 'IPAGothic', sans-serif">2</tspan></text><text x="346.74 360.99 376.15" y="970.48" transform="matrix(0.85 0 0 1 55.313 0)" font-family="'IPAGothic', monospace" font-size="24.7px"><tspan font-family="'IPAPGothic', 'IPAGothic', sans-serif">0</tspan>.<tspan font-family="'IPAPGothic', 'IPAGothic', sans-serif">4</tspan></text><text x="346.74 360.99 376.15" y="730.12" transform="matrix(0.85 0 0 1 55.313 0)" font-family="'IPAGothic', monospace" font-size="24.7px"><tspan font-family="'IPAPGothic', 'IPAGothic', sans-serif">0</tspan>.<tspan font-family="'IPAPGothic', 'IPAGothic', sans-serif">6</tspan></text><text x="346.74 360.99 376.15" y="489.76" transform="matrix(0.85 0 0 1 55.313 0)" font-family="'IPAGothic', monospace" font-size="24.7px"><tspan font-family="'IPAPGothic', 'IPAGothic', sans-serif">0</tspan>.<tspan font-family="'IPAPGothic', 'IPAGothic', sans-serif">8</tspan></text><text x="346.74 360.99 376.15" y="249.40" transform="matrix(0.85 0 0 1 55.313 0)" font-family="'IPAGothic', monospace" font-size="24.7px"><tspan font-family="'IPAPGothic', 'IPAGothic', sans-serif">1</tspan>.<tspan font-family="'IPAPGothic', 'IPAGothic', sans-serif">0</tspan></text><text x="489.19 503.90 518.60 533.31" y="1478.20" transform="matrix(0.85 0 0 1 77.784 0)" font-family="'IPAGothic', monospace" font-size="24.7px"><tspan font-family="'IPAPGothic', 'IPAGothic', sans-serif">2</tspan><tspan font-family="'IPAPGothic', 'IPAGothic', sans-serif">0</tspan><tspan font-family="'IPAPGothic', 'IPAGothic', sans-serif">1</tspan><tspan font-family="'IPAPGothic', 'IPAGothic', sans-serif">9</tspan></text><text x="907.67 922.38 937.08 951.79" y="1478.20" transform="matrix(0.85 0 0 1 140.556 0)" font-family="'IPAGothic', monospace" font-size="24.7px"><tspan font-family="'IPAPGothic', 'IPAGothic', sans-serif">2</tspan><tspan font-family="'IPAPGothic', 'IPAGothic', sans-serif">0</tspan><tspan font-family="'IPAPGothic', 'IPAGothic', sans-serif">2</tspan><tspan font-family="'IPAPGothic', 'IPAGothic', sans-serif">0</tspan></text><text x="1327.30 1342.00 1356.71 1371.42" y="1478.20" transform="matrix(0.85 0 0 1 203.500 0)" font-family="'IPAGothic', monospace" font-size="24.7px"><tspan font-family="'IPAPGothic', 'IPAGothic', sans-serif">2</tspan><tspan font-family="'IPAPGothic', 'IPAGothic', sans-serif">0</tspan><tspan font-family="'IPAPGothic', 'IPAGothic', sans-serif">2</tspan><tspan font-family="'IPAPGothic', 'IPAGothic', sans-serif">1</tspan></text><text x="1745.78 1760.48 1775.19 1789.90" y="1478.20" transform="matrix(0.85 0 0 1 266.272 0)" font-family="'IPAGothic', monospace" font-size="24.7px"><tspan font-family="'IPAPGothic', 'IPAGothic', sans-serif">2</tspan><tspan font-family="'IPAPGothic', 'IPAGothic', sans-serif">0</tspan><tspan font-family="'IPAPGothic', 'IPAGothic', sans-serif">2</tspan><tspan font-family="'IPAPGothic', 'IPAGothic', sans-serif">2</tspan></text><text x="2164.26 2178.96 2193.67 2208.38" y="1478.20" transform="matrix(0.85 0 0 1 329.044 0)" font-family="'IPAGothic', monospace" font-size="24.7px"><tspan font-family="'IPAPGothic', 'IPAGothic', sans-serif">2</tspan><tspan font-family="'IPAPGothic', 'IPAGothic', sans-serif">0</tspan><tspan font-family="'IPAPGothic', 'IPAGothic', sans-serif">2</tspan><tspan font-family="'IPAPGothic', 'IPAGothic', sans-serif">3</tspan></text><text x="2582.74 2597.44 2612.15 2626.86" y="1478.20" transform="matrix(0.85 0 0 1 391.816 0)" font-family="'IPAGothic', monospace" font-size="24.7px"><tspan font-family="'IPAPGothic', 'IPAGothic', sans-serif">2</tspan><tspan font-family="'IPAPGothic', 'IPAGothic', sans-serif">0</tspan><tspan font-family="'IPAPGothic', 'IPAGothic', sans-serif">2</tspan><tspan font-family="'IPAPGothic', 'IPAGothic', sans-serif">4</tspan></text></g>
<g transform="matrix(1 0 0 0.96 0 7.144)"><text x="1660.5" y="180.6" text-anchor="middle" font-family="'IPAGothic', monospace" font-size="37.5px" fill="#000" textLength="453" lengthAdjust="spacing">estimated capacity ratio</text></g>
<rect x="1582.5" y="213.2" width="1314.8" height="62.2" rx="7.5" ry="7.5" fill="#fff" fill-opacity="0.8" stroke="#cccccc" stroke-width="2.5"/><line x1="1597" x2="1672" y1="241.9" y2="241.9" stroke="#ff0000" stroke-width="3.75" stroke-dasharray="13.875 6"/><g transform="matrix(1 0 0 0.96 0 10.148)"><text x="1701.90 1720.65 1739.40 1758.15 1776.90 1795.65 1814.40 1833.15 1851.90 1870.65 1889.40 1908.15 1926.90 1945.65 1964.40 1983.15 2001.90 2020.65 2039.40 2058.15 2076.90 2095.65 2114.40 2133.15 2151.90 2170.65 2189.40 2208.15 2226.90 2245.65 2264.40 2283.15 2301.90 2319.41 2339.40 2358.15 2376.90 2395.65 2414.40 2433.15 2457.23 2470.65 2489.40 2508.15 2526.90 2545.65 2564.40 2583.15 2601.90 2620.65 2639.40 2658.15 2676.90 2695.65 2714.40 2733.15 2751.90 2775.98 2789.40 2808.15 2826.90 2845.65 2864.40" y="255.70 255.70 255.70 255.70 255.70 255.70 255.70 255.70 255.70 255.70 255.70 255.70 255.70 255.70 255.70 255.70 255.70 255.70 255.70 255.70 255.70 255.70 255.70 255.70 255.70 255.70 255.70 255.70 255.70 255.70 255.70 255.70 255.70 253.70 255.70 255.70 255.70 255.70 255.70 255.70 253.70 255.70 255.70 255.70 255.70 255.70 255.70 255.70 255.70 255.70 255.70 255.70 255.70 255.70 255.70 255.70 255.70 253.70 255.70 255.70 255.70 255.70 255.70" font-family="'IPAGothic', monospace" font-size="37.5px" fill="#000">average estimated capacity ratio:<tspan font-family="'Liberation Sans', 'IPAGothic', sans-serif" font-size="36.38px">0</tspan>.78, b<tspan font-family="'Liberation Sans', 'IPAGothic', sans-serif" font-size="36.38px">l</tspan>ank parts are ho<tspan font-family="'Liberation Sans', 'IPAGothic', sans-serif" font-size="36.38px">l</tspan>idays</text></g>
</svg>
</body></html>
